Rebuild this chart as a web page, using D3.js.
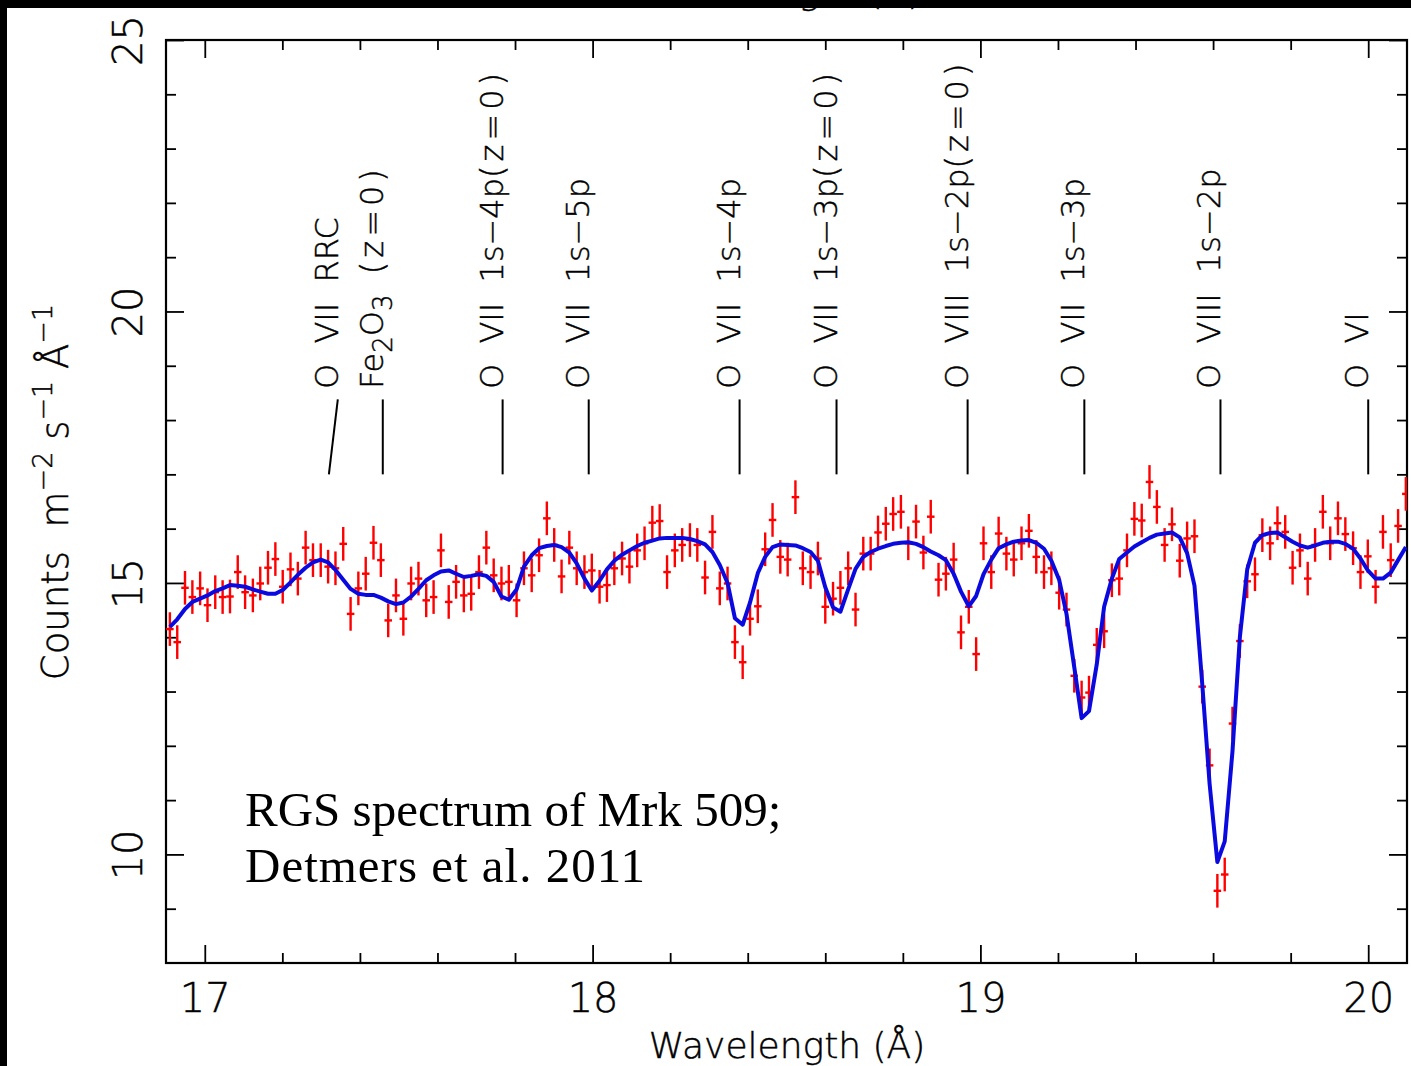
<!DOCTYPE html>
<html>
<head>
<meta charset="utf-8">
<script src="https://cdn.jsdelivr.net/npm/d3@7/dist/d3.min.js"></script>
<style>
  html, body { margin: 0; padding: 0; background: #fff; }
  svg { display: block; }
  .ax text { font-family: "DejaVu Sans", sans-serif; font-weight: 200; fill: #000;
             stroke: #000; stroke-width: 0.45px; white-space: pre; }
</style>
</head>
<body>
<svg id="chart" width="1411" height="1066"></svg>
<script>
// RGS spectrum of Mrk 509 around the O VII / O VIII K-band (Detmers et al. 2011)

// Bin centres (Angstrom)
const wavelength = [
  16.910, 16.929, 16.949, 16.968, 16.988, 17.007, 17.027, 17.046, 17.065, 17.085,
  17.104, 17.124, 17.143, 17.163, 17.182, 17.201, 17.221, 17.240, 17.260, 17.279,
  17.299, 17.318, 17.337, 17.357, 17.376, 17.396, 17.415, 17.435, 17.454, 17.473,
  17.493, 17.512, 17.532, 17.551, 17.571, 17.590, 17.609, 17.629, 17.648, 17.668,
  17.687, 17.707, 17.726, 17.745, 17.765, 17.784, 17.804, 17.823, 17.843, 17.862,
  17.882, 17.901, 17.920, 17.940, 17.959, 17.979, 17.998, 18.018, 18.037, 18.056,
  18.076, 18.095, 18.115, 18.134, 18.154, 18.173, 18.192, 18.212, 18.231, 18.251,
  18.270, 18.290, 18.309, 18.328, 18.348, 18.367, 18.387, 18.406, 18.426, 18.445,
  18.464, 18.484, 18.503, 18.523, 18.542, 18.562, 18.581, 18.600, 18.620, 18.639,
  18.659, 18.678, 18.698, 18.717, 18.736, 18.756, 18.775, 18.795, 18.814, 18.834,
  18.853, 18.872, 18.892, 18.911, 18.931, 18.950, 18.970, 18.989, 19.008, 19.028,
  19.047, 19.067, 19.086, 19.106, 19.125, 19.144, 19.164, 19.183, 19.203, 19.222,
  19.242, 19.261, 19.280, 19.300, 19.319, 19.339, 19.358, 19.378, 19.397, 19.416,
  19.436, 19.455, 19.475, 19.494, 19.514, 19.533, 19.552, 19.572, 19.591, 19.611,
  19.630, 19.650, 19.669, 19.688, 19.708, 19.727, 19.747, 19.766, 19.786, 19.805,
  19.824, 19.844, 19.863, 19.883, 19.902, 19.922, 19.941, 19.961, 19.980, 19.999,
  20.019, 20.038, 20.058, 20.077, 20.097
];

// Observed flux (counts m^-2 s^-1 A^-1)
const counts = [
  14.15, 13.91, 14.91, 14.74, 14.90, 14.59, 14.83, 14.74, 14.75, 15.20,
  14.83, 14.77, 14.99, 15.28, 15.44, 14.93, 15.25, 15.08, 15.65, 15.42,
  15.42, 15.30, 15.27, 15.72, 14.43, 14.90, 15.17, 15.74, 15.42, 14.31,
  14.77, 14.34, 14.99, 15.08, 14.68, 14.74, 15.60, 14.65, 15.02, 14.77,
  14.80, 15.20, 15.65, 15.14, 14.99, 15.02, 14.68, 15.27, 15.14, 15.51,
  16.19, 15.70, 15.12, 15.65, 15.27, 15.20, 15.23, 14.93, 14.96, 15.27,
  15.45, 15.30, 15.60, 15.73, 16.11, 16.14, 15.20, 15.60, 15.70, 15.79,
  15.70, 15.10, 15.94, 14.90, 14.99, 13.91, 13.54, 14.34, 14.57, 15.62,
  16.16, 15.48, 15.43, 16.58, 15.27, 15.20, 15.45, 14.56, 14.71, 14.91,
  15.27, 14.51, 15.54, 15.54, 15.93, 16.09, 16.27, 16.31, 15.73, 16.13,
  15.56, 16.22, 15.06, 15.17, 15.43, 14.09, 14.56, 13.69, 15.73, 15.20,
  15.91, 15.54, 15.43, 15.73, 15.96, 15.48, 15.20, 15.27, 14.82, 14.51,
  13.29, 12.89, 12.98, 13.86, 14.11, 15.05, 15.08, 15.60, 16.18, 16.15,
  16.86, 16.40, 15.70, 16.08, 15.41, 15.82, 15.86, 13.09, 11.64, 9.33,
  9.63, 12.41, 13.93, 15.03, 15.16, 15.88, 15.73, 16.10, 15.94, 15.28,
  15.60, 15.08, 15.70, 16.31, 15.73, 16.19, 15.90, 15.64, 15.20, 15.49,
  14.93, 15.94, 15.42, 16.05, 16.64
];

// Best-fit absorption model evaluated on the same bins
const model = [
  14.19, 14.33, 14.52, 14.65, 14.71, 14.77, 14.85, 14.90, 14.96, 14.95,
  14.93, 14.88, 14.84, 14.80, 14.80, 14.87, 15.01, 15.15, 15.28, 15.38,
  15.43, 15.38, 15.24, 15.06, 14.89, 14.80, 14.78, 14.78, 14.73, 14.66,
  14.61, 14.64, 14.75, 14.89, 15.05, 15.14, 15.21, 15.23, 15.17, 15.11,
  15.13, 15.16, 15.13, 15.02, 14.75, 14.69, 14.88, 15.30, 15.51, 15.64,
  15.68, 15.70, 15.66, 15.56, 15.36, 15.08, 14.86, 15.04, 15.25, 15.41,
  15.52, 15.60, 15.68, 15.74, 15.78, 15.82, 15.83, 15.83, 15.83, 15.81,
  15.77, 15.71, 15.57, 15.33, 15.00, 14.35, 14.23, 14.64, 15.18, 15.48,
  15.66, 15.71, 15.70, 15.69, 15.64, 15.57, 15.41, 14.92, 14.55, 14.47,
  14.88, 15.26, 15.48, 15.57, 15.63, 15.68, 15.72, 15.74, 15.75, 15.72,
  15.66, 15.58, 15.51, 15.42, 15.17, 14.84, 14.57, 14.76, 15.16, 15.43,
  15.64, 15.71, 15.76, 15.78, 15.79, 15.74, 15.63, 15.41, 15.06, 14.43,
  13.45, 12.51, 12.64, 13.50, 14.56, 15.08, 15.44, 15.56, 15.67, 15.75,
  15.83, 15.89, 15.91, 15.93, 15.84, 15.55, 14.95, 13.14, 11.30, 9.86,
  10.24, 11.90, 14.00, 15.25, 15.74, 15.88, 15.92, 15.93, 15.84, 15.76,
  15.69, 15.65, 15.69, 15.74, 15.76, 15.76, 15.72, 15.63, 15.45, 15.23,
  15.08, 15.08, 15.19, 15.42, 15.66
];

const countErr = 0.31;       // typical 1-sigma error per bin
const binHalfWidth = 0.0097; // half bin width (A)

// Identified transitions: label, wavelength of the label, wavelength of the marker foot
const lineLabels = [
  "O  VII  RRC",
  "Fe_2O_3  (z=0)",
  "O  VII  1s\u22124p(z=0)",
  "O  VII  1s\u22125p",
  "O  VII  1s\u22124p",
  "O  VII  1s\u22123p(z=0)",
  "O  VIII  1s\u22122p(z=0)",
  "O  VII  1s\u22123p",
  "O  VIII  1s\u22122p",
  "O  VI"
];
const lineWave = [17.343, 17.459, 17.768, 17.990, 18.379, 18.629, 18.967, 19.268, 19.619, 20.000];
const lineFoot = [17.320, 17.459, 17.768, 17.990, 18.379, 18.629, 18.967, 19.268, 19.619, 20.000];

const xMajorTicks = [17, 18, 19, 20];
const xMinorTicks = d3.range(17.0, 20.01, 0.2).filter(v => Math.abs(v - Math.round(v)) > 1e-6);
const yMajorTicks = [10, 15, 20, 25];
const yMinorTicks = [9, 11, 12, 13, 14, 16, 17, 18, 19, 21, 22, 23, 24];

const svg = d3.select("#chart");
const W = 1411, H = 1066;
const plot = { left: 166, right: 1407, top: 40, bottom: 963 };

svg.append("rect").attr("width", W).attr("height", H).attr("fill", "#fff");

const x = d3.scaleLinear().domain([16.9, 20.1]).range([plot.left, plot.right]);
const y = d3.scaleLinear().domain([8, 25]).range([plot.bottom, plot.top]);

svg.append("clipPath").attr("id", "plotClip")
  .append("rect")
  .attr("x", plot.left).attr("y", plot.top)
  .attr("width", plot.right - plot.left).attr("height", plot.bottom - plot.top);

// ---- axes: ticks on all four sides, pointing inwards ----
const majorLen = 18, minorLen = 10;
const fmt = d3.format("d");

function styleAxis(g) {
  g.select(".domain").remove();
  g.selectAll(".tick line").attr("stroke", "#000").attr("stroke-width", 1.8);
}

// bottom
const gxb = svg.append("g").attr("class", "ax").attr("transform", `translate(0,${plot.bottom})`);
gxb.append("g").call(d3.axisBottom(x).tickValues(xMinorTicks).tickSize(-minorLen).tickFormat("")).call(styleAxis);
const gxbMaj = gxb.append("g").call(d3.axisBottom(x).tickValues(xMajorTicks).tickSize(-majorLen).tickFormat(fmt)).call(styleAxis);
gxbMaj.selectAll(".tick text").attr("y", 49).attr("dy", 0)
  .attr("font-size", 40).attr("text-anchor", "middle");

// top
const gxt = svg.append("g").attr("class", "ax").attr("transform", `translate(0,${plot.top})`);
gxt.append("g").call(d3.axisTop(x).tickValues(xMinorTicks).tickSize(-minorLen).tickFormat("")).call(styleAxis);
gxt.append("g").call(d3.axisTop(x).tickValues(xMajorTicks).tickSize(-majorLen).tickFormat("")).call(styleAxis);

// left
const gyl = svg.append("g").attr("class", "ax").attr("transform", `translate(${plot.left},0)`);
gyl.append("g").call(d3.axisLeft(y).tickValues(yMinorTicks).tickSize(-minorLen).tickFormat("")).call(styleAxis);
const gylMaj = gyl.append("g").call(d3.axisLeft(y).tickValues(yMajorTicks).tickSize(-majorLen).tickFormat(fmt)).call(styleAxis);
gylMaj.selectAll(".tick text")
  .attr("x", 0).attr("y", -24).attr("dy", 0)
  .attr("transform", "rotate(-90)")
  .attr("text-anchor", "middle")
  .attr("font-size", 40);

// right
const gyr = svg.append("g").attr("class", "ax").attr("transform", `translate(${plot.right},0)`);
gyr.append("g").call(d3.axisRight(y).tickValues(yMinorTicks).tickSize(-minorLen).tickFormat("")).call(styleAxis);
gyr.append("g").call(d3.axisRight(y).tickValues(yMajorTicks).tickSize(-majorLen).tickFormat("")).call(styleAxis);

// frame
svg.append("rect")
  .attr("x", plot.left).attr("y", plot.top)
  .attr("width", plot.right - plot.left).attr("height", plot.bottom - plot.top)
  .attr("fill", "none").attr("stroke", "#000").attr("stroke-width", 2.2);

// ---- axis titles ----
const axText = svg.append("g").attr("class", "ax");
axText.append("text")
  .attr("x", 787).attr("y", 1058)
  .attr("text-anchor", "middle").attr("font-size", 36)
  .text("Wavelength (\u00C5)");

// title of the panel above, mostly hidden under the top edge
axText.append("text")
  .attr("x", 783).attr("y", 4)
  .attr("text-anchor", "middle").attr("font-size", 36)
  .text("Wavelength (\u00C5)");

const yTitle = axText.append("text")
  .attr("transform", "translate(68,492) rotate(-90)")
  .attr("text-anchor", "middle").attr("font-size", 37);
[["Counts  m", 0], ["\u22122", -1], [" s", 1], ["\u22121", -1], [" \u00C5", 1], ["\u22121", -1]]
  .forEach(([t, s]) => {
    const ts = yTitle.append("tspan").text(t);
    if (s < 0) ts.attr("dy", -16).attr("font-size", 27);
    else if (s > 0) ts.attr("dy", 16);
  });

// ---- line identifications ----
const ids = svg.append("g").attr("class", "ax");
lineLabels.forEach((label, i) => {
  ids.append("line")
    .attr("x1", x(lineFoot[i])).attr("y1", y(17.0))
    .attr("x2", x(lineWave[i])).attr("y2", y(18.38))
    .attr("stroke", "#000").attr("stroke-width", 2);

  const t = ids.append("text")
    .attr("transform", `translate(${x(lineWave[i])},${y(18.57)}) rotate(-90)`)
    .attr("text-anchor", "start").attr("font-size", 32);
  // "_n" marks a subscript digit; the redshift tag is set a little wider
  const parts = label.split(/(_\d|\(z=0\))/).filter(p => p.length);
  let lowered = false;
  parts.forEach(p => {
    if (p.startsWith("_")) {
      t.append("tspan").attr("dy", 9).attr("font-size", 26).text(p.slice(1));
      lowered = true;
    } else {
      const ts = t.append("tspan").text(p);
      if (lowered) { ts.attr("dy", -9); lowered = false; }
      if (p === "(z=0)") ts.attr("letter-spacing", 4);
    }
  });
});

// ---- data and model ----
const pts = wavelength.map((w, i) => ({ w, c: counts[i], m: model[i] }));
const dataG = svg.append("g").attr("clip-path", "url(#plotClip)");

const cross = dataG.selectAll("g.pt").data(pts).join("g").attr("class", "pt");
cross.append("line")
  .attr("x1", d => x(d.w)).attr("x2", d => x(d.w))
  .attr("y1", d => y(d.c - countErr)).attr("y2", d => y(d.c + countErr))
  .attr("stroke", "#f00").attr("stroke-width", 2.4);
cross.append("line")
  .attr("x1", d => x(d.w - binHalfWidth)).attr("x2", d => x(d.w + binHalfWidth))
  .attr("y1", d => y(d.c)).attr("y2", d => y(d.c))
  .attr("stroke", "#f00").attr("stroke-width", 2.4);

dataG.append("path")
  .datum(pts)
  .attr("fill", "none")
  .attr("stroke", "#0a0ae0")
  .attr("stroke-width", 4)
  .attr("stroke-linejoin", "round")
  .attr("d", d3.line().x(d => x(d.w)).y(d => y(d.m)));

// ---- annotation ----
const note = svg.append("text")
  .attr("font-family", "'Liberation Serif', 'DejaVu Serif', serif")
  .attr("font-size", 49).attr("fill", "#000");
note.append("tspan").attr("x", 245).attr("y", 826).text("RGS spectrum of Mrk 509;");
note.append("tspan").attr("x", 245).attr("y", 882).attr("letter-spacing", 1).text("Detmers et al. 2011");

// ---- dark border along the top and left edges ----
svg.append("rect").attr("x", 0).attr("y", 0).attr("width", W).attr("height", 8).attr("fill", "#000");
svg.append("rect").attr("x", 0).attr("y", 0).attr("width", 7).attr("height", H).attr("fill", "#000");
</script>
</body>
</html>
